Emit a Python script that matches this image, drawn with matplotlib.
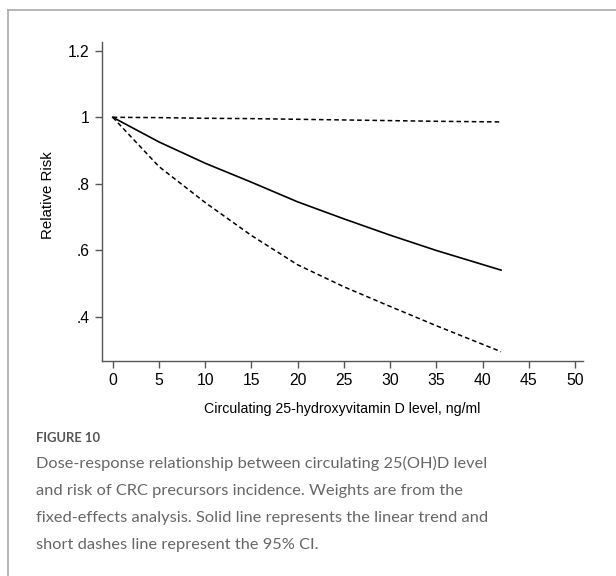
import matplotlib
matplotlib.use('Agg')
import matplotlib.pyplot as plt
from matplotlib.lines import Line2D

plt.rcParams['font.family'] = ['Liberation Sans', 'DejaVu Sans']

# dose-response estimates, 25(OH)D in ng/ml
dose = [0, 5, 10, 15, 20, 25, 30, 35, 42]
rr = [1.0, 0.926, 0.862, 0.805, 0.746, 0.695, 0.646, 0.600, 0.541]
ci_low = [1.0, 0.852, 0.744, 0.645, 0.557, 0.491, 0.432, 0.374, 0.296]
ci_high = [1.0, 0.999, 0.997, 0.996, 0.994, 0.992, 0.990, 0.988, 0.986]

xticks = list(range(0, 51, 5))
yticks = [0.4, 0.6, 0.8, 1.0, 1.2]
ytick_labels = ['.4', '.6', '.8', '1', '1.2']

W, H = 616, 576
fig = plt.figure(figsize=(W / 100, H / 100), dpi=100)
ax = fig.add_axes([102 / W, 1 - 360.7 / H, (583 - 102) / W, (360.7 - 41.7) / H])

ax.plot(dose, rr, color='black', lw=1.2)
ax.plot(dose, ci_low, color='black', lw=1.1, dashes=(3, 2))
ax.plot(dose, ci_high, color='black', lw=1.1, dashes=(3, 2))

ax.set_xlim(-1.16, 50.86)
ax.set_ylim(0.269, 1.227)
ax.set_xticks(xticks)
ax.set_yticks(yticks)
ax.set_yticklabels(ytick_labels)
for s in ['top', 'right']:
    ax.spines[s].set_visible(False)
for s in ['left', 'bottom']:
    ax.spines[s].set_color('#555555')
    ax.spines[s].set_linewidth(1.0)
ax.tick_params(direction='out', length=5, width=1.0, color='#555555',
               labelsize=11.3, pad=4)
ax.set_xlabel('Circulating 25-hydroxyvitamin D level, ng/ml', fontsize=10.2, labelpad=10)
ax.set_ylabel('Relative Risk', fontsize=10.8)
ax.yaxis.set_label_coords(-47 / (583 - 102), 0.52)

# panel frame
fig.add_artist(Line2D([8 / W, 1], [1 - 10 / H, 1 - 10 / H], color='#aaaaaa', lw=1.2))
fig.add_artist(Line2D([8 / W, 8 / W], [0, 1 - 10 / H], color='#aaaaaa', lw=1.2))

fig.text(36 / W, 1 - 438 / H, 'FIGURE 10', fontsize=9.4, fontweight='bold',
         color='#555555', family=['Lato', 'DejaVu Sans'], va='center')
caption = ['Dose-response relationship between circulating 25(OH)D level',
           'and risk of CRC precursors incidence. Weights are from the',
           'fixed-effects analysis. Solid line represents the linear trend and',
           'short dashes line represent the 95% CI.']
for i, line in enumerate(caption):
    fig.text(36 / W, 1 - (463 + 27.5 * i) / H, line, fontsize=11.8, color='#666666',
             family=['Lato', 'DejaVu Sans'], va='center')

fig.savefig('out.png', dpi=100)
